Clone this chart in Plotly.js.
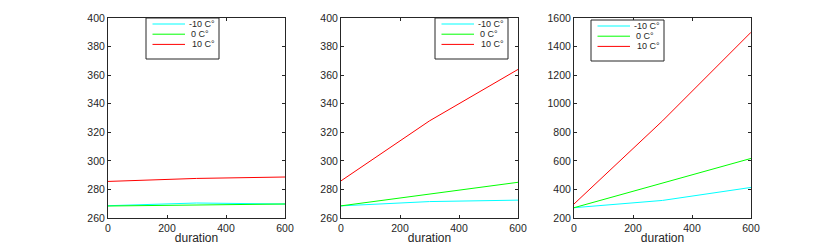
<!DOCTYPE html>
<html><head><meta charset="utf-8">
<script src="https://cdn.plot.ly/plotly-3.0.1.min.js"></script>
<style>body{margin:0;background:#fff}#c{width:830px;height:245px}</style>
</head><body><div id="c"></div>
<script>
const duration = [0, 300, 600];
const seriesNames = ["-10 C\u00b0", "0 C\u00b0", "10 C\u00b0"];
const colors = ["#00ffff", "#00ff00", "#ff0000"];
const panel1 = {m10: [268.6, 270.5, 269.8], z0: [268.4, 269.2, 269.8], p10: [285.6, 287.7, 288.7]};
const panel2 = {m10: [268.5, 271.5, 272.5], z0: [268.5, 277, 285], p10: [286, 328, 364]};
const panel3 = {m10: [272, 323, 414], z0: [272, 447, 617], p10: [298, 880, 1500]};
const panels = [panel1, panel2, panel3];
const yRanges = [[260, 400], [260, 400], [200, 1600]];
const yDtick = [20, 20, 200];

const W = 830, H = 245, MT = 18, MB = 27;
const PH = H - MT - MB;
const plotLeftPx = [108, 341, 574];
const plotWidthPx = 177;
const legendBoxPx = [[146, 18], [435, 18], [591, 20]]; // left, top in px
const legendW = 73, legendH = 41;
const textOffsets = [42, 44, 45];

const px = v => v / W;
const py = v => (H - MB - v) / PH;

const traces = [];
const shapes = [];
const annotations = [];
const layout = {
  width: W, height: H, margin: {l: 0, r: 0, t: MT, b: MB},
  paper_bgcolor: "#fff", plot_bgcolor: "#fff", showlegend: false,
  font: {family: "Liberation Sans, Arial, sans-serif", size: 10, color: "#262626"},
  shapes: shapes, annotations: annotations
};
panels.forEach((p, i) => {
  const xa = i === 0 ? "x" : "x" + (i + 1);
  const ya = i === 0 ? "y" : "y" + (i + 1);
  [p.m10, p.z0, p.p10].forEach((vals, k) => {
    traces.push({x: duration, y: vals, type: "scatter", mode: "lines", name: seriesNames[k],
      xaxis: xa, yaxis: ya, line: {color: colors[k], width: 1}});
  });
  const axCommon = {showgrid: false, zeroline: false, showline: true, mirror: "ticks",
    linecolor: "#262626", linewidth: 1, ticks: "inside", ticklen: 3, tickcolor: "#262626",
    tickfont: {size: 10.5, color: "#262626"}};
  layout[xa === "x" ? "xaxis" : "xaxis" + (i + 1)] = Object.assign({}, axCommon, {
    domain: [px(plotLeftPx[i]), px(plotLeftPx[i] + plotWidthPx)], range: [0, 600],
    tickvals: [0, 200, 400, 600], anchor: ya,
    title: {text: "duration", font: {size: 12}, standoff: 1}
  });
  layout[ya === "y" ? "yaxis" : "yaxis" + (i + 1)] = Object.assign({}, axCommon, {
    domain: [0, 1], range: yRanges[i], dtick: yDtick[i], anchor: xa
  });
  // manual legend box
  const [bl, bt] = legendBoxPx[i];
  shapes.push({type: "rect", xref: "paper", yref: "paper", x0: px(bl), x1: px(bl + legendW),
    y0: py(bt), y1: py(bt + legendH), line: {color: "#262626", width: 1}, fillcolor: "#fff", layer: "above"});
  seriesNames.forEach((nm, k) => {
    const rowY = bt + 6 + k * 10.2;
    shapes.push({type: "line", xref: "paper", yref: "paper", x0: px(bl + 6.5), x1: px(bl + 39),
      y0: py(rowY), y1: py(rowY), line: {color: colors[k], width: 1}, layer: "above"});
    annotations.push({xref: "paper", yref: "paper", x: px(bl + textOffsets[k]), y: py(rowY),
      xanchor: "left", yanchor: "middle", text: nm, showarrow: false, borderpad: 0,
      font: {size: 9, color: "#262626"}});
  });
});
Plotly.newPlot("c", traces, layout, {staticPlot: true});
</script></body></html>
